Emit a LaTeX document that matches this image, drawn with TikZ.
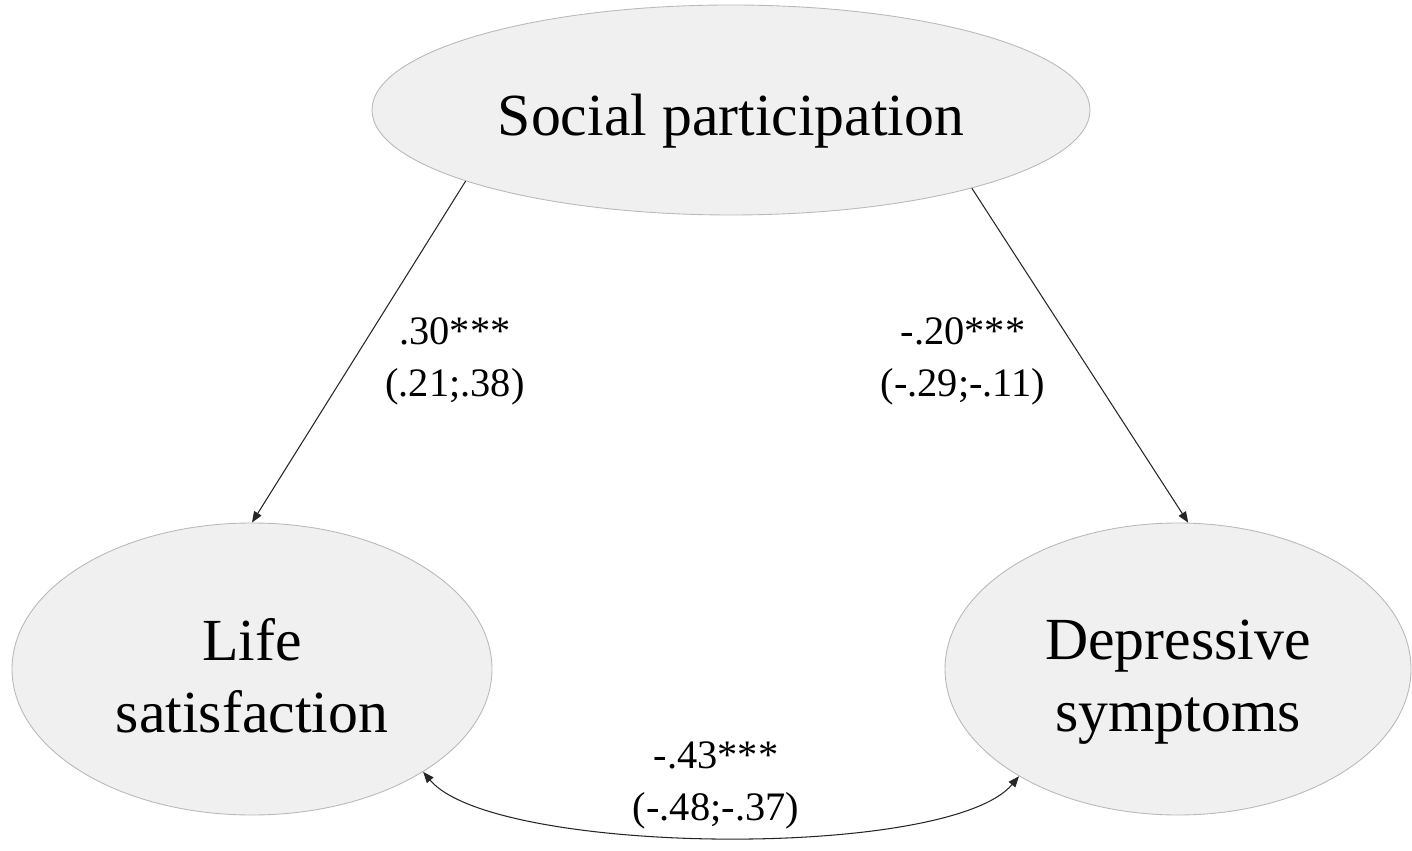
\documentclass[tikz,border=0pt]{standalone}
\usepackage{fontspec}
\setmainfont{Liberation Serif}
\usetikzlibrary{shapes.geometric,arrows.meta}
\definecolor{ovalfill}{RGB}{240,240,240}
\definecolor{ovalline}{RGB}{185,185,185}
\begin{document}
\begin{tikzpicture}[>={Triangle[length=0.22cm,width=0.17cm]},
	var/.style={ellipse,draw=ovalline,fill=ovalfill,line width=0.5pt,inner sep=0pt,align=center,font=\fontsize{34}{41}\selectfont},
	coef/.style={align=center,inner sep=0pt,font=\fontsize{23}{29.5}\selectfont},
	arr/.style={draw=black!85,line width=0.6pt}]
	\useasboundingbox (0,0) rectangle (28.24,17);
	% latent variables
	\node[var,minimum width=14.36cm,minimum height=4.2cm,text height=1.3cm,text depth=0.26cm] (sp) at (14.62,14.8) {Social participation};
	\node[var,minimum width=9.6cm,minimum height=5.84cm,text height=2.55cm,text depth=0cm] (ls) at (5.04,3.62) {Life\\satisfaction};
	\node[var,minimum width=9.32cm,minimum height=5.84cm,text height=2.75cm,text depth=0.26cm] (ds) at (23.56,3.62) {Depressive\\symptoms};
	% coefficients
	\node[coef] (c1) at (9.10,9.78) {.30***\\(.21;.38)};
	\node[coef] (c2) at (19.26,9.78) {-.20***\\(-.29;-.11)};
	\node[coef] (c3) at (14.32,1.3) {-.43***\\(-.48;-.37)};
	% paths
	\draw[arr,->] (sp.195.5) -- (ls.north);
	\draw[arr,->] (sp.342.6) -- (ds.86);
	\draw[arr,<->] (ls.329) to[out=-50,in=-130,looseness=0.47] (ds.214);
\end{tikzpicture}
\end{document}
